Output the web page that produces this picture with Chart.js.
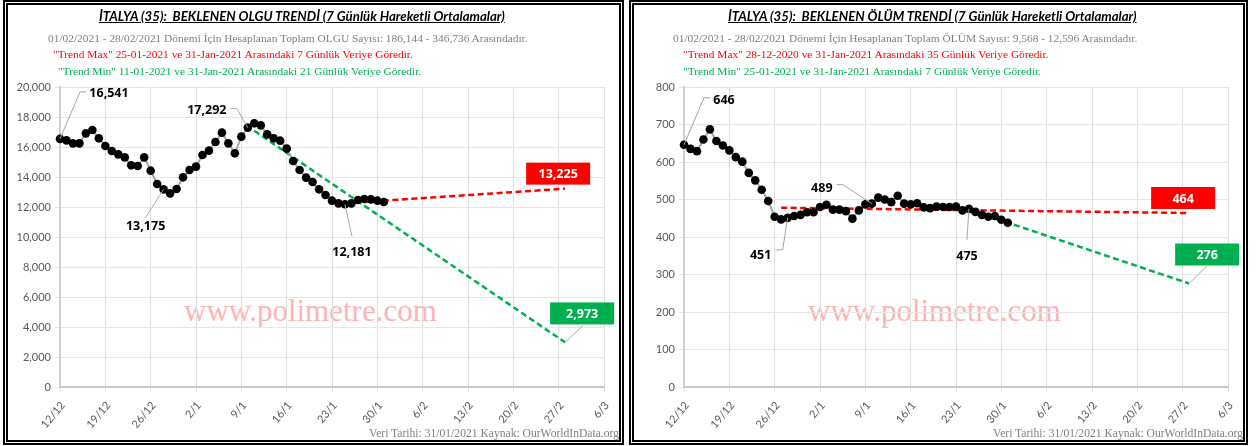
<!DOCTYPE html>
<html lang="tr">
<head>
<meta charset="utf-8">
<title>İtalya - Beklenen Olgu / Ölüm Trendi</title>
<script src="https://cdn.jsdelivr.net/npm/chart.js@4.4.1/dist/chart.umd.min.js"></script>
<style>
  body { margin: 0; width: 1258px; height: 446px; background: #fff; position: relative; overflow: hidden; font-family: Lato, sans-serif; }
  .panel { position: absolute; top: 0; height: 435px; border: 5px double #000; }
  .box { position: absolute; }
  .txt { position: absolute; white-space: pre; }
  .title { font: italic bold 13.2px Lato, sans-serif; text-decoration: underline; line-height: 16px; color: #000; }
  .sub { font: 11.4px "Liberation Serif", serif; line-height: 14px; }
  .foot { font-size: 11.6px; }
  .gray { color: #808080; }
  .red { color: #ff0000; }
  .green { color: #00b050; }
  .mark { font: 31px "Liberation Serif", serif; line-height: 36px; color: #ffb4b4; }
</style>
</head>
<body>
<div class="panel" style="left:3px; width:611px;"></div>
<div class="panel" style="left:629px; width:609px;"></div>

<div class="txt mark" style="left:184px; top:293px;">www.polimetre.com</div>
<div class="txt mark" style="left:808px; top:293px;">www.polimetre.com</div>

<div class="box" style="left:8px; top:5px; width:611px; height:435px;"><canvas id="olguChart" width="611" height="435"></canvas></div>
<div class="box" style="left:634px; top:5px; width:609px; height:435px;"><canvas id="olumChart" width="609" height="435"></canvas></div>

<div class="txt title" style="left:99px; top:8px;">İTALYA (35):  BEKLENEN OLGU TRENDİ (7 Günlük Hareketli Ortalamalar)</div>
<div class="txt sub gray" style="left:48px; top:31px;">01/02/2021 - 28/02/2021 Dönemi İçin Hesaplanan Toplam OLGU Sayısı: 186,144 - 346,736 Arasındadır.</div>
<div class="txt sub red" style="left:53px; top:47px;">"Trend Max" 25-01-2021 ve 31-Jan-2021 Arasındaki 7 Günlük Veriye Göredir.</div>
<div class="txt sub green" style="left:58px; top:64px;">"Trend Min" 11-01-2021 ve 31-Jan-2021 Arasındaki 21 Günlük Veriye Göredir.</div>
<div class="txt sub foot gray" style="right:639px; top:427px;">Veri Tarihi: 31/01/2021 Kaynak: OurWorldInData.org</div>

<div class="txt title" style="left:728px; top:8px;">İTALYA (35):  BEKLENEN ÖLÜM TRENDİ (7 Günlük Hareketli Ortalamalar)</div>
<div class="txt sub gray" style="left:673px; top:31px;">01/02/2021 - 28/02/2021 Dönemi İçin Hesaplanan Toplam ÖLÜM Sayısı: 9,568 - 12,596 Arasındadır.</div>
<div class="txt sub red" style="left:683px; top:47px;">"Trend Max" 28-12-2020 ve 31-Jan-2021 Arasındaki 35 Günlük Veriye Göredir.</div>
<div class="txt sub green" style="left:683px; top:64px;">"Trend Min" 25-01-2021 ve 31-Jan-2021 Arasındaki 7 Günlük Veriye Göredir.</div>
<div class="txt sub foot gray" style="right:15px; top:427px;">Veri Tarihi: 31/01/2021 Kaynak: OurWorldInData.org</div>

<script>
// x axis: days since 12/12/2020, one tick per week
const tickLabels = ['12/12', '19/12', '26/12', '2/1', '9/1', '16/1', '23/1', '30/1', '6/2', '13/2', '20/2', '27/2', '6/3'];

// 7-day moving averages, 12/12/2020 .. 31/01/2021
const olguValues = [16541, 16444, 16244, 16244, 16911, 17133, 16578, 16067, 15733, 15511,
  15311, 14778, 14733, 15311, 14422, 13533, 13175, 12911, 13200, 13978,
  14467, 14689, 15467, 15756, 16333, 16956, 16244, 15578, 16689, 17292,
  17578, 17444, 16844, 16578, 16422, 15889, 15067, 14467, 13956, 13667,
  13178, 12800, 12422, 12244, 12181, 12244, 12467, 12533, 12511, 12422, 12333];

const olumValues = [646, 635, 629, 660, 687, 656, 644, 631, 613, 601,
  571, 551, 526, 496, 454, 447, 451, 456, 459, 466,
  466, 480, 486, 473, 473, 469, 449, 471, 487, 489,
  505, 500, 493, 510, 489, 487, 490, 479, 477, 481,
  480, 480, 481, 471, 475, 467, 459, 454, 456, 446, 438];

// trend lines: [start day, end day] and [start value, end value]
const olguMaxDays = [44, 78], olguMaxValues = [12250, 13225];
const olguMinDays = [30, 78], olguMinValues = [17080, 2973];
const olumMaxDays = [15, 78], olumMaxValues = [478, 464];
const olumMinDays = [44, 78], olumMinValues = [473, 276];

// labelled points (day index)
const olguLabelled = [0, 29, 16, 44];
const olumLabelled = [0, 29, 16, 44];

const tickFont = { family: 'Lato', size: 11 };
const labelFont = 'bold 12.5px "Noto Sans"';
const fmt = v => Math.round(v).toLocaleString('en-US');

function toPoints(days, values) {
  return values.map((v, i) => ({ x: days[i], y: v }));
}

// callouts: text offset and leader line, relative to the point
const calloutPlugin = {
  id: 'callouts',
  afterDatasetsDraw(chart, args, opts) {
    const { ctx, scales: { x, y } } = chart;
    ctx.save();
    ctx.font = labelFont;
    ctx.textAlign = 'center';
    ctx.textBaseline = 'middle';
    opts.points.forEach(p => {
      const px = x.getPixelForValue(p.day);
      const py = y.getPixelForValue(p.value);
      ctx.strokeStyle = '#a6a6a6';
      ctx.lineWidth = 1;
      ctx.beginPath();
      ctx.moveTo(px, py);
      p.leader.forEach(([dx, dy]) => ctx.lineTo(px + dx, py + dy));
      ctx.stroke();
      ctx.fillStyle = '#000';
      ctx.fillText(fmt(p.value), px + p.tx, py + p.ty);
    });
    opts.boxes.forEach(b => {
      const px = x.getPixelForValue(b.day);
      const py = y.getPixelForValue(b.value);
      if (b.leader) {
        ctx.strokeStyle = '#a6a6a6';
        ctx.lineWidth = 1;
        ctx.beginPath();
        ctx.moveTo(px + 1, py - 1);
        ctx.lineTo(px + b.leader[0], py + b.leader[1]);
        ctx.stroke();
      }
      const cx = px + b.tx, cy = py + b.ty;
      ctx.fillStyle = b.color;
      ctx.fillRect(cx - 32, cy - 11, 64, 22);
      ctx.fillStyle = '#fff';
      ctx.fillText(fmt(b.value), cx, cy + 1);
    });
    ctx.restore();
  }
};

function makeChart(id, values, maxDays, maxValues, minDays, minValues, yMax, yStep, layout, callouts, boxes) {
  const days = values.map((_, i) => i);
  return new Chart(document.getElementById(id), {
    type: 'line',
    data: {
      datasets: [
        {
          data: toPoints(days, values),
          borderColor: '#a6a6a6',
          borderWidth: 2,
          pointRadius: 4.3,
          pointBackgroundColor: '#000',
          pointBorderWidth: 0,
          clip: false
        },
        {
          data: toPoints(maxDays, maxValues),
          borderColor: '#ff0000',
          borderWidth: 2.5,
          borderDash: [6, 3.5],
          pointRadius: 0,
          clip: false
        },
        {
          data: toPoints(minDays, minValues),
          borderColor: '#00b050',
          borderWidth: 2.5,
          borderDash: [6, 3.5],
          pointRadius: 0,
          clip: false
        }
      ]
    },
    options: {
      responsive: false,
      animation: false,
      devicePixelRatio: 1,
      layout: { padding: { top: layout.top, right: layout.right, left: 0, bottom: 0 } },
      plugins: {
        legend: { display: false },
        tooltip: { enabled: false },
        callouts: { points: callouts, boxes: boxes }
      },
      scales: {
        x: {
          type: 'linear',
          min: 0,
          max: 84,
          afterFit: s => { s.height = 53; s.paddingLeft = 0; s.paddingRight = 0; },
          ticks: {
            stepSize: 7,
            autoSkip: false,
            minRotation: 50,
            maxRotation: 50,
            padding: 7,
            labelOffset: 3,
            color: '#595959',
            font: tickFont,
            callback: v => tickLabels[Math.round(v / 7)]
          },
          grid: { color: '#dedede', tickLength: 5 },
          border: { color: '#c8c8c8', width: 2 }
        },
        y: {
          min: 0,
          max: yMax,
          afterFit: s => { s.width = layout.left; },
          ticks: {
            stepSize: yStep,
            padding: 4,
            color: '#595959',
            font: tickFont,
            callback: v => fmt(v)
          },
          grid: { color: '#e6e6e6', tickLength: 5 },
          border: { color: '#d0d0d0', width: 2 }
        }
      }
    },
    plugins: [calloutPlugin]
  });
}

const olguOffsets = [
  { tx: 49, ty: -45, leader: [[20, -47], [26, -47]] },
  { tx: -41, ty: -17, leader: [[-11, -19], [-17, -19]] },
  { tx: -18, ty: 37, leader: [[-18, 28]] },
  { tx: 7, ty: 48, leader: [[7, 32]] }
];
const olumOffsets = [
  { tx: 40, ty: -44, leader: [[20, -47], [26, -47]] },
  { tx: -50, ty: -15, leader: [[-29, -19], [-35, -19]] },
  { tx: -27, ty: 38, leader: [[-5, 32], [-12, 32]] },
  { tx: -2, ty: 48, leader: [[-2, 31]] }
];

makeChart('olguChart', olguValues, olguMaxDays, olguMaxValues, olguMinDays, olguMinValues, 20000, 2000,
  { top: 82, right: 15, left: 52 },
  olguLabelled.map((d, i) => Object.assign({ day: d, value: olguValues[d] }, olguOffsets[i])),
  [
    { day: olguMaxDays[1], value: olguMaxValues[1], color: '#ff0000', tx: -7, ty: -15 },
    { day: olguMinDays[1], value: olguMinValues[1], color: '#00b050', tx: 17, ty: -29, leader: [18, -17] }
  ]);

makeChart('olumChart', olumValues, olumMaxDays, olumMaxValues, olumMinDays, olumMinValues, 800, 100,
  { top: 82, right: 15, left: 50 },
  olumLabelled.map((d, i) => Object.assign({ day: d, value: olumValues[d] }, olumOffsets[i])),
  [
    { day: olumMaxDays[1], value: olumMaxValues[1], color: '#ff0000', tx: -6, ty: -15 },
    { day: olumMinDays[1], value: olumMinValues[1], color: '#00b050', tx: 18, ty: -29, leader: [18, -18] }
  ]);
</script>
</body>
</html>
